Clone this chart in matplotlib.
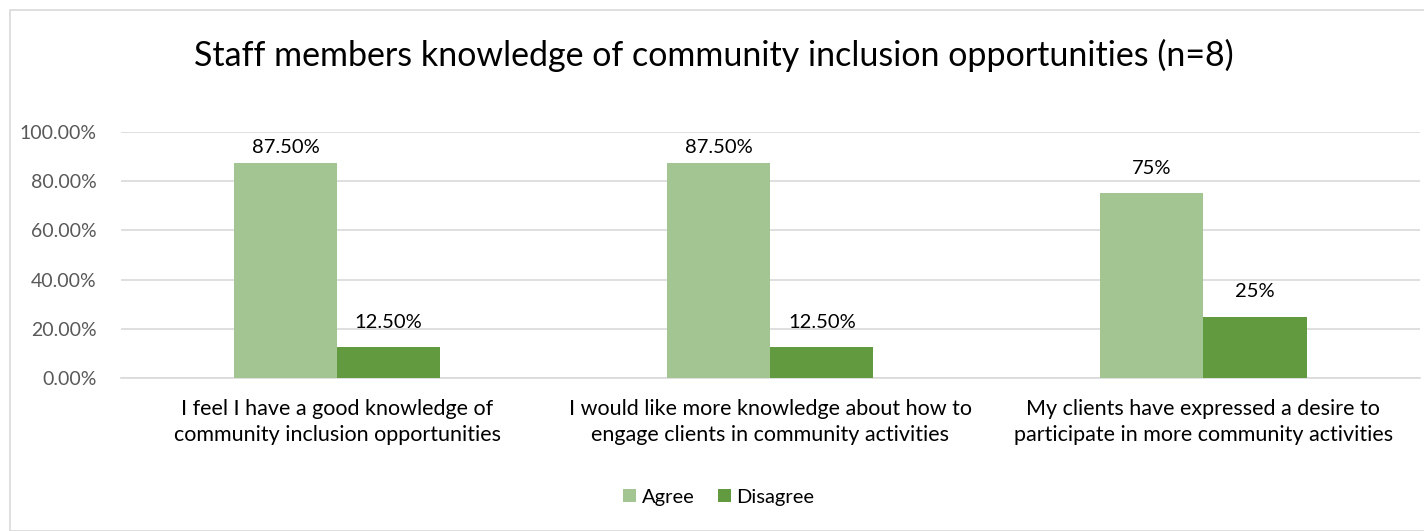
import matplotlib
matplotlib.use("Agg")
import matplotlib.pyplot as plt
import numpy as np
from matplotlib.patches import Rectangle

categories = ["I feel I have a good knowledge of\ncommunity inclusion opportunities",
              "I would like more knowledge about how to\nengage clients in community activities",
              "My clients have expressed a desire to\nparticipate in more community activities"]
agree = [87.5, 87.5, 75.0]
disagree = [12.5, 12.5, 25.0]
agree_labels = ["87.50%", "87.50%", "75%"]
disagree_labels = ["12.50%", "12.50%", "25%"]
yticks = [0, 20, 40, 60, 80, 100]
ytick_labels = ["0.00%", "20.00%", "40.00%", "60.00%", "80.00%", "100.00%"]

plt.rcParams['font.family'] = ['Lato', 'DejaVu Sans']

W, H = 1424, 531
fig = plt.figure(figsize=(W/100, H/100), dpi=100)
fig.patches.append(Rectangle((10/W, 0), 1.2, (H-10)/H, transform=fig.transFigure,
                             fill=False, edgecolor='#D9D9D9', linewidth=1.2))

left, right, top, bottom = 120.5, 1420, 132, 378
ax = fig.add_axes([left/W, 1-bottom/H, (right-left)/W, (bottom-top)/H])

x = np.arange(len(categories))
bw = 0.238
c_agree = '#A3C591'
c_dis = '#629A3F'
b1 = ax.bar(x - bw/2, agree, bw, color=c_agree, label='Agree', zorder=3)
b2 = ax.bar(x + bw/2, disagree, bw, color=c_dis, label='Disagree', zorder=3)

def label_y(v):
    return min(v + 10.2, 93.5)

for i in range(len(categories)):
    ax.text(x[i] - bw/2, label_y(agree[i]), agree_labels[i], ha='center', va='center', fontsize=14.5, color='#000000')
    ax.text(x[i] + bw/2, label_y(disagree[i]), disagree_labels[i], ha='center', va='center', fontsize=14.5, color='#000000')

ax.set_xlim(-0.5, 2.5)
ax.set_ylim(0, 100)
ax.set_yticks(yticks)
ax.set_yticklabels(ytick_labels, fontsize=14, color='#595959')
ax.set_xticks(x)
ax.set_xticklabels(categories, fontsize=15.5, color='#000000', linespacing=1.4)
ax.tick_params(axis='both', length=0)
ax.tick_params(axis='y', pad=17)
ax.tick_params(axis='x', pad=15)
ax.grid(axis='y', color='#D9D9D9', linewidth=1.2, zorder=0)
for s in ['top', 'right', 'left']:
    ax.spines[s].set_visible(False)
ax.spines['bottom'].set_color('#D9D9D9')
ax.spines['bottom'].set_linewidth(1.2)

fig.text(714/W, 1-55/H, "Staff members knowledge of community inclusion opportunities (n=8)",
         ha='center', va='center', fontsize=24.5, color='#000000')

fig.legend(handles=[b1, b2], loc='center', bbox_to_anchor=(719/W, 1-497/H), ncol=2,
           frameon=False, fontsize=14.5, handlelength=0.6, handleheight=0.6,
           handletextpad=0.3, columnspacing=1.2)

fig.savefig('out.png', dpi=100)
